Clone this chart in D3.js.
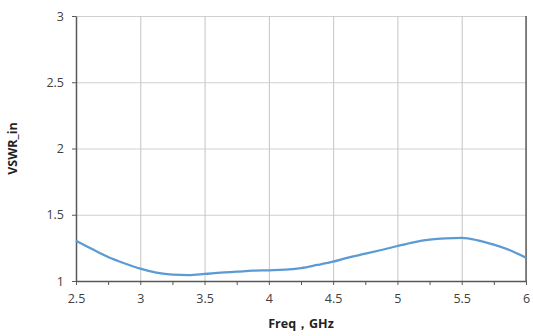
<!DOCTYPE html>
<html>
<head>
<meta charset="utf-8">
<script src="https://cdn.jsdelivr.net/npm/d3@7"></script>
<style>
  body { margin: 0; background: #fff; }
  text { font-family: "Open Sans", "Liberation Sans", sans-serif; }
</style>
</head>
<body>
<div id="chart"></div>
<script>
// VSWR_in readings (GHz, VSWR)
const freqs = [2.5, 2.625, 2.75, 2.875, 3.0, 3.125, 3.25, 3.375, 3.5, 3.625, 3.75, 3.875,
  4.0, 4.125, 4.25, 4.375, 4.5, 4.625, 4.75, 4.875, 5.0, 5.125, 5.25, 5.375, 5.5,
  5.625, 5.75, 5.875, 6.0];
const vswr = [1.304, 1.241, 1.181, 1.134, 1.093, 1.063, 1.048, 1.045, 1.053, 1.063, 1.070, 1.078,
  1.081, 1.085, 1.098, 1.121, 1.146, 1.179, 1.206, 1.234, 1.264, 1.292, 1.312, 1.322, 1.325,
  1.307, 1.274, 1.232, 1.176];
const xTicks = [2.5, 3, 3.5, 4, 4.5, 5, 5.5, 6];
const xMinorTicks = [2.75, 3.25, 3.75, 4.25, 4.75, 5.25, 5.75];
const yTicks = [1, 1.5, 2, 2.5, 3];

const W = 533, H = 336;
const margin = { top: 16, right: 7, bottom: 55, left: 76 };
const width = W - margin.left - margin.right;
const height = H - margin.top - margin.bottom;

const x = d3.scaleLinear().domain([2.5, 6]).range([0, width]);
const y = d3.scaleLinear().domain([1, 3]).range([height, 0]);

const svg = d3.select("#chart").append("svg")
  .attr("width", W).attr("height", H);
const g = svg.append("g")
  .attr("transform", `translate(${margin.left},${margin.top})`);

// grid
g.append("g")
  .call(d3.axisLeft(y).tickValues(yTicks).tickSize(-width).tickFormat(""))
  .call(s => s.select(".domain").remove())
  .call(s => s.selectAll("line").attr("stroke", "#d0d0d0"));
g.append("g")
  .attr("transform", `translate(0,${height})`)
  .call(d3.axisBottom(x).tickValues(xTicks).tickSize(height).tickFormat(""))
  .attr("transform", `translate(0,0)`)
  .call(s => s.select(".domain").remove())
  .call(s => s.selectAll("line").attr("stroke", "#c4c4c4"));

// right border
g.append("line")
  .attr("x1", x(6)).attr("x2", x(6))
  .attr("y1", 0).attr("y2", height)
  .attr("stroke", "#404040").attr("stroke-width", 1.2);

// minor x ticks
g.append("g")
  .attr("transform", `translate(0,${height})`)
  .call(d3.axisBottom(x).tickValues(xMinorTicks).tickSize(4).tickFormat(""))
  .call(s => s.select(".domain").remove())
  .call(s => s.selectAll("line").attr("stroke", "#595959"));

// axes
const xAxis = g.append("g")
  .attr("transform", `translate(0,${height})`)
  .call(d3.axisBottom(x).tickValues(xTicks).tickSize(4).tickSizeOuter(0).tickPadding(9)
    .tickFormat(d3.format("")));
const yAxis = g.append("g")
  .call(d3.axisLeft(y).tickValues(yTicks).tickSize(4).tickSizeOuter(0).tickPadding(8)
    .tickFormat(d3.format("")));
[xAxis, yAxis].forEach(a => {
  a.select(".domain").attr("stroke", "#595959").attr("stroke-width", 1.5);
  a.selectAll(".tick line").attr("stroke", "#595959");
  a.selectAll(".tick text").attr("fill", "#404040").attr("font-size", "12.5px")
    .attr("font-family", "\"Open Sans\", sans-serif");
});

// curve
const line = d3.line()
  .x((d, i) => x(freqs[i]))
  .y(d => y(d))
  .curve(d3.curveMonotoneX);
g.append("path")
  .datum(vswr)
  .attr("d", line)
  .attr("fill", "none")
  .attr("stroke", "#5b9bd5")
  .attr("stroke-width", 2.25)
  .attr("stroke-linejoin", "round");

// axis titles
svg.append("text")
  .attr("x", margin.left + width / 2)
  .attr("y", 328)
  .attr("text-anchor", "middle")
  .attr("font-size", "12.5px")
  .attr("font-weight", "bold")
  .attr("fill", "#222")
  .text("Freq，GHz");

svg.append("text")
  .attr("transform", `translate(17,${margin.top + height / 2}) rotate(-90)`)
  .attr("text-anchor", "middle")
  .attr("font-size", "12.5px")
  .attr("font-weight", "bold")
  .attr("fill", "#222")
  .text("VSWR_in");
</script>
</body>
</html>
